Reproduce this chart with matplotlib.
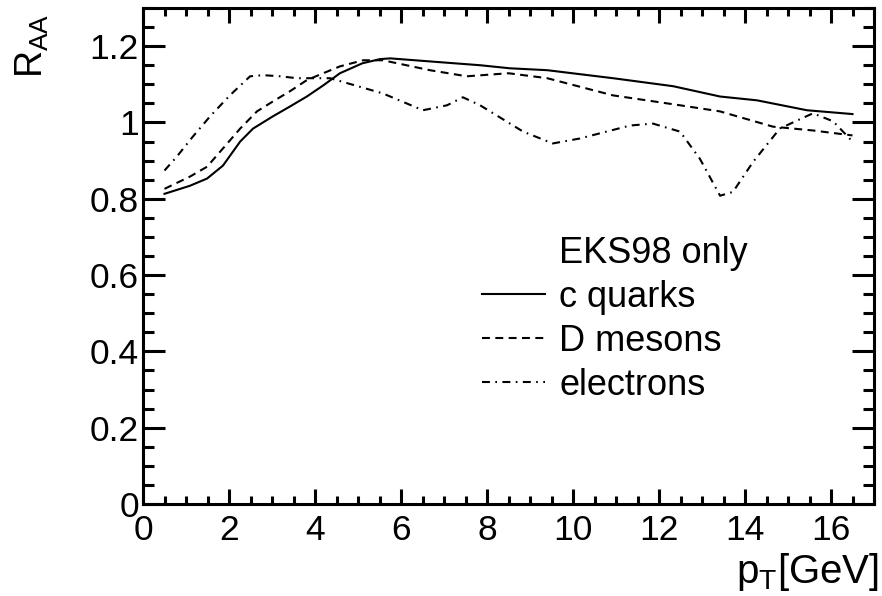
import matplotlib
matplotlib.use("Agg")
import matplotlib.pyplot as plt
from matplotlib.ticker import MultipleLocator, FormatStrFormatter
from matplotlib.lines import Line2D

plt.rcParams['font.family'] = ['Liberation Sans', 'DejaVu Sans']
plt.rcParams['mathtext.fontset'] = 'custom'
plt.rcParams['mathtext.rm'] = 'Liberation Sans'
plt.rcParams['mathtext.it'] = 'Liberation Sans'

# R_AA vs pT, EKS98 only
pt_quarks = [0.5, 1.09, 1.49, 1.86, 2.26, 2.56, 3.02, 3.42, 3.81, 4.19, 4.58, 5.1,
             5.51, 5.75, 6.67, 7.84, 8.53, 9.40, 10.93, 12.33, 13.42, 14.28, 15.44, 16.5]
raa_quarks = [0.813, 0.834, 0.853, 0.887, 0.950, 0.984, 1.016, 1.042, 1.068, 1.097,
              1.129, 1.155, 1.166, 1.168, 1.160, 1.150, 1.142, 1.137, 1.116, 1.095,
              1.068, 1.058, 1.032, 1.022]

pt_mesons = [0.5, 1.09, 1.49, 1.86, 2.26, 2.65, 3.02, 3.42, 3.81, 4.19, 4.58, 5.12,
             5.58, 6.67, 7.53, 8.5, 9.40, 10.93, 12.49, 13.42, 14.65, 15.58, 16.5]
raa_mesons = [0.826, 0.858, 0.884, 0.932, 0.984, 1.029, 1.055, 1.082, 1.111, 1.129,
              1.147, 1.163, 1.163, 1.137, 1.121, 1.129, 1.116, 1.071, 1.045, 1.029,
              0.989, 0.979, 0.966]

pt_electrons = [0.5, 0.79, 1.16, 1.56, 2.02, 2.49, 2.79, 3.19, 3.58, 4.35, 5.58, 6.51,
                7.07, 7.44, 7.84, 8.84, 9.53, 10.16, 11.33, 11.86, 12.49, 12.95, 13.42,
                13.72, 14.19, 14.81, 15.21, 15.58, 16.05, 16.5]
raa_electrons = [0.874, 0.911, 0.963, 1.016, 1.071, 1.121, 1.124, 1.121, 1.116, 1.116,
                 1.076, 1.032, 1.045, 1.066, 1.045, 0.976, 0.945, 0.958, 0.992, 0.997,
                 0.976, 0.905, 0.808, 0.818, 0.897, 0.984, 1.005, 1.024, 1.003, 0.950]

legend_title = "EKS98 only"
labels = ["c quarks", "D mesons", "electrons"]

fig = plt.figure(figsize=(8.82, 5.96), dpi=100)
ax = fig.add_axes([143 / 882, 1 - 504 / 596, 731 / 882, 496 / 596])

lw = 1.5
dashed = (0, (3.8, 2.6))
dashdot = (0, (3.8, 2.6, 0.8, 2.6))
ax.plot(pt_quarks, raa_quarks, color='black', lw=lw, linestyle='-')
ax.plot(pt_mesons, raa_mesons, color='black', lw=lw, linestyle=dashed)
ax.plot(pt_electrons, raa_electrons, color='black', lw=lw, linestyle=dashdot)

ax.set_xlim(0, 17)
ax.set_ylim(0, 1.3)

ax.xaxis.set_major_locator(MultipleLocator(2))
ax.xaxis.set_minor_locator(MultipleLocator(0.5))
ax.yaxis.set_major_locator(MultipleLocator(0.2))
ax.yaxis.set_minor_locator(MultipleLocator(0.05))
ax.yaxis.set_major_formatter(FormatStrFormatter('%g'))

for s in ax.spines.values():
    s.set_linewidth(2.2)

ax.tick_params(axis='both', which='both', direction='in', top=True, right=True,
               labelsize=25.5, width=2.2)
ax.tick_params(axis='x', which='major', length=11, pad=7)
ax.tick_params(axis='x', which='minor', length=5.5)
ax.tick_params(axis='y', which='major', length=16, pad=3)
ax.tick_params(axis='y', which='minor', length=8)

# axis titles
fig.text(32 / 882, 1 - 14 / 596, r'$\mathrm{R_{AA}}$', rotation=90, ha='center', va='top',
         fontsize=27)
fig.text(879 / 882, 1 - 583 / 596, r'$\mathrm{p_{T}[GeV]}$', ha='right', va='baseline',
         fontsize=29)

handles = [Line2D([], [], color='none'),
           Line2D([], [], color='black', lw=lw, linestyle='-'),
           Line2D([], [], color='black', lw=lw, linestyle=dashed),
           Line2D([], [], color='black', lw=lw, linestyle=dashdot)]
ax.legend(handles, [legend_title] + labels, loc='center left',
          bbox_to_anchor=(0.464, 0.372), frameon=False, fontsize=26,
          handlelength=1.75, handletextpad=0.38, labelspacing=0.25,
          borderpad=0, borderaxespad=0)

fig.savefig("out.png", dpi=100)
